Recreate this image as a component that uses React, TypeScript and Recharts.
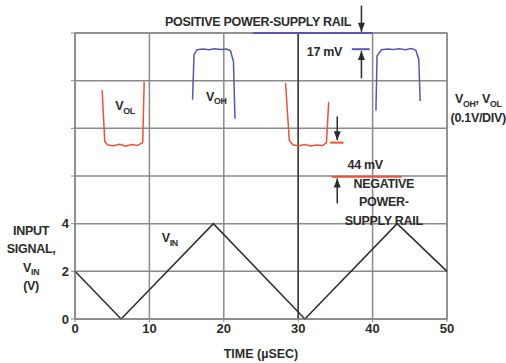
import React from "react"
import {
  ComposedChart,
  Line,
  XAxis,
  YAxis,
  CartesianGrid,
  ReferenceLine,
  ReferenceDot,
  ReferenceArea,
} from "recharts"

// input triangle (V)
const vinTime = [0, 6.2, 18.6, 30.9, 43.3, 50]
const vinVolts = [2, 0, 4, 0, 4, 2]

// output traces, plotted on the upper panel (grid units)
const vol1Time = [3.65, 4.0, 4.4, 5.2, 6.0, 6.8, 7.6, 8.4, 9.1, 9.3]
const vol1Vals = [9.6, 7.45, 7.3, 7.27, 7.33, 7.25, 7.32, 7.28, 7.4, 9.95]
const voh1Time = [15.8, 16.0, 16.4, 17.2, 18.0, 18.8, 19.6, 20.4, 20.9, 21.3, 21.5]
const voh1Vals = [9.2, 11.1, 11.3, 11.33, 11.3, 11.34, 11.31, 11.33, 11.25, 10.8, 8.4]
const vol2Time = [28.3, 28.8, 29.3, 30.1, 30.9, 31.7, 32.5, 33.3, 33.8, 34.1]
const vol2Vals = [9.9, 7.5, 7.3, 7.27, 7.32, 7.26, 7.3, 7.28, 7.4, 9.1]
const voh2Time = [40.45, 40.6, 41.2, 42.0, 42.8, 43.6, 44.4, 45.2, 45.8, 46.2, 46.4]
const voh2Vals = [8.75, 11.05, 11.3, 11.33, 11.31, 11.34, 11.3, 11.35, 11.28, 10.9, 9.15]

const xTicks = [0, 10, 20, 30, 40, 50]
const yTicks = [0, 2, 4, 6, 8, 10, 12]

const RED = "#ef5233"
const BLUE = "#5757b3"
const INK = "#2b2b2b"
const GRID = "#8a8a8a"
const FONT = "'Liberation Sans', Arial, sans-serif"

const zip = (t: number[], v: number[]) => t.map((x, i) => ({ t: x, v: v[i] }))

const traces = [
  { key: "vin", data: zip(vinTime, vinVolts), color: INK },
  { key: "vol1", data: zip(vol1Time, vol1Vals), color: RED },
  { key: "voh1", data: zip(voh1Time, voh1Vals), color: BLUE },
  { key: "vol2", data: zip(vol2Time, vol2Vals), color: RED },
  { key: "voh2", data: zip(voh2Time, voh2Vals), color: BLUE },
]

// rail markers: [x1, x2, y, colour]
const rails: [number, number, number, string][] = [
  [23.9, 40, 12, BLUE],
  [37.2, 39.6, 11.32, BLUE],
  [34.5, 43.9, 5.97, RED],
  [34.3, 36.1, 7.4, RED],
]

// arrows: x, from y, to y (tip)
const arrows: [number, number, number][] = [
  [38.5, 13.15, 12.05],
  [38.5, 10.1, 11.25],
  [35.25, 8.5, 7.5],
  [35.25, 4.85, 5.9],
]

// text notes; {..} marks a subscript
const notes: { x: number; y: number; lines: string[]; anchor?: string }[] = [
  { x: 24.6, y: 12.46, lines: ["POSITIVE POWER-SUPPLY RAIL"] },
  { x: 35.9, y: 11.2, lines: ["17 mV"], anchor: "end" },
  { x: 39.0, y: 6.46, lines: ["44 mV"] },
  { x: 41.5, y: 4.91, lines: ["NEGATIVE", "POWER-", "SUPPLY RAIL"] },
  { x: 5.4, y: 8.95, lines: ["V{OL}"], anchor: "start" },
  { x: 17.6, y: 9.35, lines: ["V{OH}"], anchor: "start" },
  { x: 11.65, y: 3.4, lines: ["V{IN}"], anchor: "start" },
  { x: 54.2, y: 8.85, lines: ["V{OH}, V{OL}", "(0.1V/DIV)"] },
  { x: -5.9, y: 2.55, lines: ["INPUT", "SIGNAL,", "V{IN}", "(V)"] },
]

function Note(props: any) {
  const { cx, cy, lines, anchor = "middle", size = 12.5, lh = 18.5 } = props
  const spans: React.ReactNode[] = []
  let shift = 0
  lines.forEach((line: string, i: number) => {
    const parts = line.split(/(\{[^}]*\})/).filter(Boolean)
    parts.forEach((p, j) => {
      const sub = p.startsWith("{")
      const target = sub ? 3.5 : 0
      let dy = target - shift
      if (j === 0 && i > 0) dy += lh
      shift = target
      spans.push(
        <tspan key={`${i}-${j}`} x={j === 0 ? cx : undefined} dy={dy} fontSize={sub ? size * 0.7 : size}>
          {sub ? p.slice(1, -1) : p}
        </tspan>
      )
    })
  })
  return (
    <text
      x={cx}
      y={cy - ((lines.length - 1) * lh) / 2 + size * 0.35}
      textAnchor={anchor}
      fontFamily={FONT}
      fontWeight="bold"
      fontSize={size}
      fill={INK}
      letterSpacing={-0.3}
    >
      {spans}
    </text>
  )
}

function Head(props: any) {
  const { cx, cy, up } = props
  const d = up ? 9 : -9
  return <path d={`M${cx},${cy} l-3.5,${d} l7,0 z`} fill={INK} />
}

export default function App() {
  return (
    <div style={{ position: "absolute", left: 0, top: 0, background: "#fff" }}>
      <ComposedChart width={506} height={363} margin={{ top: 33, right: 59, bottom: 0, left: 0 }}>
        <CartesianGrid stroke={GRID} strokeWidth={1.5} />
        <XAxis
          dataKey="t"
          type="number"
          domain={[0, 50]}
          ticks={xTicks}
          height={44}
          tickSize={3}
          stroke={GRID}
          tick={{ fill: INK, fontFamily: FONT, fontWeight: "bold", fontSize: 13 }}
          label={{
            value: "TIME (µSEC)",
            position: "insideBottom",
            offset: 5,
            fill: INK,
            fontFamily: FONT,
            fontWeight: "bold",
            fontSize: 12.5,
          }}
        />
        <YAxis
          type="number"
          domain={[0, 12]}
          ticks={yTicks}
          width={75}
          tickSize={4}
          stroke={GRID}
          interval={0}
          tickFormatter={(v: number) => (v <= 4 ? String(v) : "")}
          tick={{ fill: INK, fontFamily: FONT, fontWeight: "bold", fontSize: 13 }}
        />
        <YAxis
          yAxisId="r"
          orientation="right"
          type="number"
          domain={[0, 12]}
          ticks={yTicks}
          width={0}
          tickSize={3}
          interval={0}
          stroke={GRID}
          tickFormatter={() => ""}
        />
        <ReferenceArea x1={0} x2={50} y1={0} y2={12} fill="none" stroke={GRID} strokeWidth={1.5} />
        <ReferenceLine x={30} stroke="#3a3a3a" strokeWidth={1.5} />
        {traces.map((s) => (
          <Line
            key={s.key}
            data={s.data}
            dataKey="v"
            type="linear"
            stroke={s.color}
            strokeWidth={1.5}
            dot={false}
            isAnimationActive={false}
          />
        ))}
        {rails.map(([x1, x2, y, c], i) => (
          <ReferenceLine
            key={`rail${i}`}
            segment={[
              { x: x1, y },
              { x: x2, y },
            ]}
            stroke={c}
            strokeWidth={2}
            ifOverflow="visible"
          />
        ))}
        {arrows.map(([x, y1, y2], i) => (
          <ReferenceLine
            key={`arr${i}`}
            segment={[
              { x, y: y1 },
              { x, y: y2 },
            ]}
            stroke={INK}
            strokeWidth={1.5}
            ifOverflow="visible"
          />
        ))}
        {arrows.map(([x, y1, y2], i) => (
          <ReferenceDot
            key={`head${i}`}
            x={x}
            y={y2}
            r={1}
            ifOverflow="visible"
            shape={(p: any) => <Head cx={p.cx} cy={p.cy} up={y2 > y1} />}
          />
        ))}
        {notes.map((n, i) => (
          <ReferenceDot
            key={`note${i}`}
            x={n.x}
            y={n.y}
            r={1}
            ifOverflow="visible"
            shape={(p: any) => <Note cx={p.cx} cy={p.cy} lines={n.lines} anchor={n.anchor} />}
          />
        ))}
      </ComposedChart>
    </div>
  )
}
